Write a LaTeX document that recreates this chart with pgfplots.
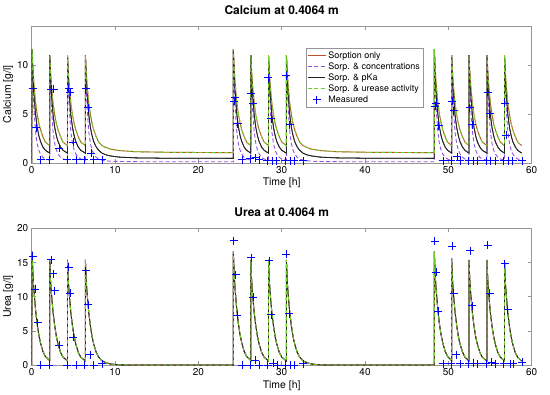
\documentclass[border=0pt]{standalone}
\usepackage{pgfplots}
\pgfplotsset{compat=1.18}
\usepackage{pgfplotstable}
\usepackage{fontspec}
\setmainfont{TeX Gyre Heros}
\definecolor{cBrown}{RGB}{190,80,35}
\definecolor{cPurple}{RGB}{150,80,230}
\definecolor{cGreen}{RGB}{110,205,40}
\definecolor{cBlk}{RGB}{35,35,35}
\definecolor{cAx}{RGB}{150,150,150}
\definecolor{cMeas}{RGB}{0,0,255}

\pgfplotstableread{
t up pka conc ur
0 0 0 0 0
0.05 11.6 11.6 11.6 16.6
0.15 9.7 9.1 8.1 13.3
0.25 8.3 7.4 5.9 11.3
0.45 6.3 5.1 3.3 8.3
0.65 5.0 3.7 2.0 6.1
0.85 4.1 2.8 1.3 4.5
1.05 3.4 2.2 0.9 3.3
1.35 2.65 1.6 0.55 2.0
1.65 2.1 1.27 0.38 1.25
2.17 1.75 0.98 0.27 0.66
2.17 11.0 11.0 11.0 15.4
2.27 9.3 8.7 7.7 12.3
2.37 8.0 7.1 5.6 10.5
2.57 6.1 4.9 3.2 7.7
2.77 4.9 3.6 1.95 5.7
2.97 4.0 2.75 1.28 4.15
3.17 3.35 2.15 0.9 3.05
3.47 2.65 1.6 0.55 1.85
3.77 2.1 1.27 0.38 1.15
4.30 1.75 0.98 0.27 0.61
4.30 11.0 11.0 11.0 15.4
4.40 9.3 8.7 7.7 12.3
4.50 8.0 7.1 5.6 10.5
4.70 6.1 4.9 3.2 7.7
4.90 4.9 3.6 1.95 5.7
5.10 4.0 2.75 1.28 4.15
5.30 3.35 2.15 0.9 3.05
5.60 2.65 1.6 0.55 1.85
5.90 2.1 1.27 0.38 1.15
6.45 1.75 0.98 0.27 0.61
6.45 11.0 11.0 11.0 15.4
6.55 9.3 8.7 7.7 12.3
6.65 8.0 7.1 5.6 10.5
6.85 6.1 4.9 3.2 7.7
7.05 4.9 3.6 1.95 5.7
7.25 4.0 2.75 1.28 4.15
7.45 3.35 2.15 0.9 3.05
7.75 2.65 1.6 0.55 1.85
8.05 2.1 1.27 0.38 1.15
8.45 1.75 0.98 0.27 0.61
8.95 1.55 0.80 0.20 0.33
9.45 1.40 0.70 0.16 0.16
10.45 1.25 0.58 0.13 0.04
12.45 1.13 0.50 0.11 0
16.45 1.07 0.46 0.10 0
24.20 1.03 0.45 0.10 0
24.20 11.6 11.6 11.6 16.6
24.30 9.7 9.1 8.1 13.3
24.40 8.3 7.4 5.9 11.3
24.60 6.3 5.1 3.3 8.3
24.80 5.0 3.7 2.0 6.1
25.00 4.1 2.8 1.3 4.5
25.20 3.4 2.2 0.9 3.3
25.50 2.65 1.6 0.55 2.0
25.80 2.1 1.27 0.38 1.25
26.30 1.75 0.98 0.27 0.66
26.30 11.0 11.0 11.0 15.4
26.40 9.3 8.7 7.7 12.3
26.50 8.0 7.1 5.6 10.5
26.70 6.1 4.9 3.2 7.7
26.90 4.9 3.6 1.95 5.7
27.10 4.0 2.75 1.28 4.15
27.30 3.35 2.15 0.9 3.05
27.60 2.65 1.6 0.55 1.85
27.90 2.1 1.27 0.38 1.15
28.42 1.75 0.98 0.27 0.61
28.42 11.0 11.0 11.0 15.4
28.52 9.3 8.7 7.7 12.3
28.62 8.0 7.1 5.6 10.5
28.82 6.1 4.9 3.2 7.7
29.02 4.9 3.6 1.95 5.7
29.22 4.0 2.75 1.28 4.15
29.42 3.35 2.15 0.9 3.05
29.72 2.65 1.6 0.55 1.85
30.02 2.1 1.27 0.38 1.15
30.57 1.75 0.98 0.27 0.61
30.57 11.0 11.0 11.0 15.4
30.67 9.3 8.7 7.7 12.3
30.77 8.0 7.1 5.6 10.5
30.97 6.1 4.9 3.2 7.7
31.17 4.9 3.6 1.95 5.7
31.37 4.0 2.75 1.28 4.15
31.57 3.35 2.15 0.9 3.05
31.87 2.65 1.6 0.55 1.85
32.17 2.1 1.27 0.38 1.15
32.57 1.75 0.98 0.27 0.61
33.07 1.55 0.80 0.20 0.33
33.57 1.40 0.70 0.16 0.16
34.57 1.25 0.58 0.13 0.04
36.57 1.13 0.50 0.11 0
40.57 1.07 0.46 0.10 0
48.32 1.03 0.45 0.10 0
48.32 11.6 11.6 11.6 16.6
48.42 9.7 9.1 8.1 13.3
48.52 8.3 7.4 5.9 11.3
48.72 6.3 5.1 3.3 8.3
48.92 5.0 3.7 2.0 6.1
49.12 4.1 2.8 1.3 4.5
49.32 3.4 2.2 0.9 3.3
49.62 2.65 1.6 0.55 2.0
49.92 2.1 1.27 0.38 1.25
50.40 1.75 0.98 0.27 0.66
50.40 11.0 11.0 11.0 15.6
50.50 9.3 8.7 7.7 12.5
50.60 8.0 7.1 5.6 10.6
50.80 6.1 4.9 3.2 7.8
51.00 4.9 3.6 1.95 5.8
51.20 4.0 2.75 1.28 4.2
51.40 3.35 2.15 0.9 3.1
51.70 2.65 1.6 0.55 1.9
52.00 2.1 1.27 0.38 1.15
52.48 1.75 0.98 0.27 0.61
52.48 11.0 11.0 11.0 15.4
52.58 9.3 8.7 7.7 12.3
52.68 8.0 7.1 5.6 10.5
52.88 6.1 4.9 3.2 7.7
53.08 4.9 3.6 1.95 5.7
53.28 4.0 2.75 1.28 4.15
53.48 3.35 2.15 0.9 3.05
53.78 2.65 1.6 0.55 1.85
54.08 2.1 1.27 0.38 1.15
54.64 1.75 0.98 0.27 0.61
54.64 11.0 11.0 11.0 15.4
54.74 9.3 8.7 7.7 12.3
54.84 8.0 7.1 5.6 10.5
55.04 6.1 4.9 3.2 7.7
55.24 4.9 3.6 1.95 5.7
55.44 4.0 2.75 1.28 4.15
55.64 3.35 2.15 0.9 3.05
55.94 2.65 1.6 0.55 1.85
56.24 2.1 1.27 0.38 1.15
56.74 1.75 0.98 0.27 0.61
56.74 11.0 11.0 11.0 15.2
56.84 9.3 8.7 7.7 12.2
56.94 8.0 7.1 5.6 10.4
57.14 6.1 4.9 3.2 7.6
57.34 4.9 3.6 1.95 5.6
57.54 4.0 2.75 1.28 4.1
57.74 3.35 2.15 0.9 3.0
58.04 2.65 1.6 0.55 1.8
58.34 2.1 1.27 0.38 1.1
58.80 1.75 0.98 0.27 0.6
}\modeltab

\pgfplotstableread{
t ca
0.16 7.6
0.56 3.6
1.1 0.3
2.16 0.3
2.36 7.5
2.62 7.5
3.28 1.5
4.24 0.3
4.44 7.6
4.64 7.2
4.96 2.1
5.36 0.3
6.32 0.3
6.48 7.6
6.76 5.6
7.12 0.95
7.44 0.3
8.44 0.3
24.3 6.3
24.45 6.7
24.73 4.0
25.25 0.3
26.25 0.4
26.37 7.1
26.57 6.1
26.9 0.5
27.3 0.3
28.25 0.2
28.37 8.7
28.73 4.5
28.85 0.2
29.37 0.2
30.45 0.2
30.53 8.9
30.97 3.9
31.05 0.2
31.5 0.2
32.57 0.2
48.4 5.8
48.55 6.1
48.84 3.8
49.37 0.2
50.37 0.2
50.45 6.3
50.65 5.3
51.05 0.6
51.45 0.2
52.45 0.2
52.57 5.6
52.85 3.9
53.05 0.2
53.5 0.2
54.53 0.2
54.72 7.2
54.97 5.0
55.1 0.2
55.6 0.2
56.64 0.2
56.77 6.1
56.97 2.8
57.2 0.2
57.7 0.2
58.85 0.2
}\meascatab

\pgfplotstableread{
t ur
0.16 15.9
0.44 11.1
0.72 6.2
1.1 0
2.1 0
2.32 15.4
2.56 13.4
2.76 10.9
3.28 2.9
4.24 0
4.44 14.3
4.64 10.5
4.96 4.1
5.36 0
6.32 0
6.48 13.8
6.8 8.8
7.04 1.5
7.44 0
8.44 0.2
24.25 18.2
24.49 13.2
24.65 7.3
25.25 0
26.25 0
26.37 15.7
26.57 9.9
26.85 0.7
27.33 0
28.33 0
28.53 15.3
28.73 7.4
28.97 0.25
29.45 0
30.4 0
30.57 16.2
30.89 7.5
31.05 0
31.5 0
32.57 0.2
48.34 18.1
48.54 13.6
48.78 7.9
49.37 0.2
50.37 0.2
50.45 17.4
50.65 10.5
50.97 1.5
51.45 0.2
52.45 0.2
52.65 16.7
52.85 8.7
53.05 0.3
53.5 0.2
54.57 0.2
54.72 17.5
54.97 10.5
55.2 0.4
55.6 0.2
56.65 0.2
56.77 14.8
57.13 8.1
57.45 0.2
57.8 0.2
58.85 0.4
}\measurtab

\pgfplotsset{
  mystyle/.style={
    scale only axis, width=500bp,
    xmin=0, xmax=60, xtick={0,10,...,60},
    tick align=inside,
    axis line style={cAx, line width=0.5bp},
    tick style={cAx, line width=0.5bp},
    major tick length=4bp,
    ticklabel style={font=\fontsize{10}{12}\selectfont},
    label style={font=\fontsize{10.5}{12}\selectfont},
    title style={font=\bfseries\fontsize{12}{14}\selectfont, at={(0.5,1)}, anchor=south, yshift=2bp},
    xlabel={Time [h]},
    xlabel style={yshift=2bp},
    ylabel style={yshift=-3bp},
    /pgf/number format/assume math mode=true,
    clip=true,
  },
  sOnlyStyle/.style={color=cBrown, line width=0.9bp, mark=none,
    legend image code/.code={%
      \pgfsetstrokecolor{cBrown}\pgfsetlinewidth{1bp}%
      \pgfpathmoveto{\pgfqpoint{0bp}{0bp}}\pgfpathlineto{\pgfqpoint{18bp}{0bp}}%
      \pgfusepath{stroke}}},
  sConcStyle/.style={color=cPurple, line width=0.9bp, dash pattern=on 4bp off 2.5bp, mark=none},
  sPkaStyle/.style={color=cBlk, line width=0.8bp, mark=none},
  sUreStyle/.style={color=cGreen, line width=0.9bp, dash pattern=on 4bp off 2.5bp, mark=none},
  sMeasStyle/.style={scatter, only marks, mark=+, mark size=4bp, point meta=0, color=cMeas,
    scatter/@pre marker code/.code={\pgfscope\pgfsetstrokecolor{cMeas}\pgfsetfillcolor{cMeas}\pgfsetlinewidth{1bp}\pgfsetdash{}{0pt}},
    scatter/@post marker code/.code={\endpgfscope},
    legend image code/.code={%
      \pgfsetstrokecolor{cMeas}\pgfsetlinewidth{1bp}%
      \pgfpathmoveto{\pgfqpoint{5bp}{0bp}}\pgfpathlineto{\pgfqpoint{13bp}{0bp}}%
      \pgfpathmoveto{\pgfqpoint{9bp}{-4bp}}\pgfpathlineto{\pgfqpoint{9bp}{4bp}}%
      \pgfusepath{stroke}}},
}

\begin{document}
\begin{tikzpicture}[x=1bp,y=1bp]
\useasboundingbox (0,0) rectangle (550,394);
\begin{axis}[mystyle, at={(38,236.3)}, anchor=south west, height=137bp,
  ymin=0, ymax=14, ytick={0,5,10},
  title={Calcium at 0.4064 m}, ylabel={Calcium [g/l]},
  legend style={at={(0.784,0.837)}, anchor=north east, draw=cAx, fill=white,
    font=\fontsize{9}{10}\selectfont, inner sep=1.5bp, row sep=-1.2bp, line width=0.5bp},
  legend cell align=left]
\addplot[sPkaStyle, forget plot] table[x=t,y=pka]{\modeltab};
\addplot[sOnlyStyle] table[x=t,y=up]{\modeltab};
\addlegendentry{Sorption only}
\addplot[sConcStyle] table[x=t,y=conc]{\modeltab};
\addlegendentry{Sorp. \& concentrations}
\addplot[sPkaStyle] table[x=t,y=pka]{\modeltab};
\addlegendentry{Sorp. \& pKa}
\addplot[sUreStyle] table[x=t,y=up]{\modeltab};
\addlegendentry{Sorp. \& urease activity}
\addplot[sMeasStyle] table[x=t,y=ca]{\meascatab};
\addlegendentry{Measured}
\end{axis}
\begin{axis}[mystyle, at={(38,42.3)}, anchor=south west, height=136.7bp,
  ymin=0, ymax=20, ytick={0,5,10,15,20},
  title={Urea at 0.4064 m}, ylabel={Urea [g/l]}]
\addplot[sPkaStyle, forget plot] table[x=t,y=ur]{\modeltab};
\addplot[sOnlyStyle] table[x=t,y=ur]{\modeltab};
\addplot[sConcStyle] table[x=t,y=ur]{\modeltab};
\addplot[sPkaStyle] table[x=t,y=ur]{\modeltab};
\addplot[sUreStyle] table[x=t,y=ur]{\modeltab};
\addplot[sMeasStyle] table[x=t,y=ur]{\measurtab};
\end{axis}
\end{tikzpicture}
\end{document}
